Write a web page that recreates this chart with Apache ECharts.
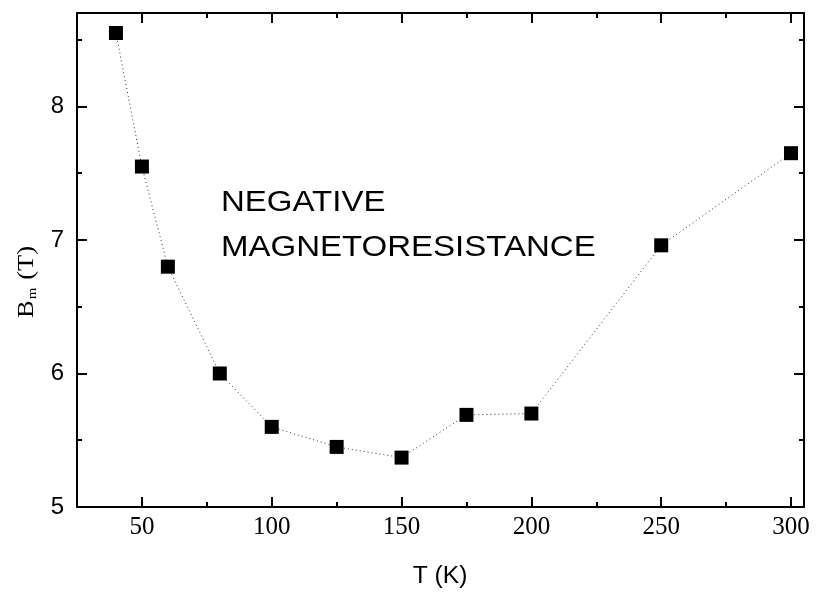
<!DOCTYPE html>
<html>
<head>
<meta charset="utf-8">
<script src="https://cdn.jsdelivr.net/npm/echarts@6/dist/echarts.min.js"></script>
<style>
  html, body { margin: 0; padding: 0; background: #fff; }
  #chart { width: 817px; height: 592px; }
</style>
</head>
<body>
<div id="chart"></div>
<script>
// Temperature (K) and crossover field B_m (T)
const temperatures = [40, 50, 60, 80, 100, 125, 150, 175, 200, 250, 300];
const fieldBm = [8.55, 7.55, 6.80, 6.00, 5.60, 5.45, 5.37, 5.69, 5.70, 6.96, 7.65];

// Tick positions
const xMajorTicks = [50, 100, 150, 200, 250, 300];
const xMinorTicks = [25, 75, 125, 175, 225, 275];
const yMajorTicks = [5, 6, 7, 8];
const yMinorTicks = [5.5, 6.5, 7.5, 8.5];

const xRange = [25, 305];
const yRange = [5, 8.7];

const SANS = '"Liberation Sans", Arial, sans-serif';
const SERIF = '"Liberation Serif", "Times New Roman", serif';

const chart = echarts.init(document.getElementById('chart'), null, { renderer: 'canvas' });

function xAxisDef(position, ticks, len, showLine, showLabel) {
  return {
    type: 'value', position: position, min: xRange[0], max: xRange[1],
    axisLine: { show: showLine, onZero: false, lineStyle: { color: '#000', width: 2 } },
    axisTick: { show: true, inside: true, length: len, customValues: ticks,
                lineStyle: { color: '#000', width: 2 } },
    axisLabel: { show: showLabel, customValues: ticks, color: '#000',
                 fontFamily: SERIF, fontSize: 25, margin: 8 },
    splitLine: { show: false }
  };
}
function yAxisDef(position, ticks, len, showLine, showLabel) {
  return {
    type: 'value', position: position, min: yRange[0], max: yRange[1],
    axisLine: { show: showLine, onZero: false, lineStyle: { color: '#000', width: 2 } },
    axisTick: { show: true, inside: true, length: len, customValues: ticks,
                lineStyle: { color: '#000', width: 2 } },
    axisLabel: { show: showLabel, customValues: ticks, color: '#000',
                 fontFamily: SANS, fontSize: 24, margin: 13 },
    splitLine: { show: false }
  };
}

chart.setOption({
  animation: false,
  backgroundColor: '#fff',
  grid: { left: 77, right: 13, top: 13, bottom: 85, containLabel: false },
  xAxis: [
    xAxisDef('bottom', xMajorTicks, 10, true, true),
    xAxisDef('bottom', xMinorTicks, 5, false, false),
    xAxisDef('top', xMajorTicks, 10, true, false),
    xAxisDef('top', xMinorTicks, 5, false, false)
  ],
  yAxis: [
    yAxisDef('left', yMajorTicks, 10, true, true),
    yAxisDef('left', yMinorTicks, 5, false, false),
    yAxisDef('right', yMajorTicks, 10, true, false),
    yAxisDef('right', yMinorTicks, 5, false, false)
  ],
  graphic: [
    {
      // y-axis title: B with subscript m, rotated
      type: 'text', x: 27, y: 282, rotation: Math.PI / 2, scaleX: 1.15,
      style: {
        text: '{b|B}{s|m}{b| (T)}',
        align: 'center', verticalAlign: 'middle',
        rich: {
          b: { fontFamily: SERIF, fontSize: 23, color: '#000', lineHeight: 24, verticalAlign: 'top' },
          s: { fontFamily: SERIF, fontSize: 13, color: '#000', lineHeight: 13, padding: [16, 1, 0, 1], verticalAlign: 'bottom' }
        }
      }
    },
    {
      // x-axis title
      type: 'text', x: 440, y: 577, scaleX: 1.07,
      style: {
        text: 'T (K)', fontFamily: SANS, fontSize: 23, fill: '#000',
        align: 'center', verticalAlign: 'middle'
      }
    },
    {
      type: 'text', x: 221, y: 180, scaleX: 1.1,
      style: {
        text: 'NEGATIVE\nMAGNETORESISTANCE',
        fontFamily: SANS, fontSize: 30, lineHeight: 45, fill: '#000'
      }
    }
  ],
  series: [{
    type: 'line',
    xAxisIndex: 0, yAxisIndex: 0,
    data: temperatures.map((t, i) => [t, fieldBm[i]]),
    symbol: 'rect', symbolSize: 14,
    itemStyle: { color: '#000' },
    lineStyle: { color: '#333', width: 1, type: [1, 3] },
    z: 5
  }]
});
</script>
</body>
</html>
